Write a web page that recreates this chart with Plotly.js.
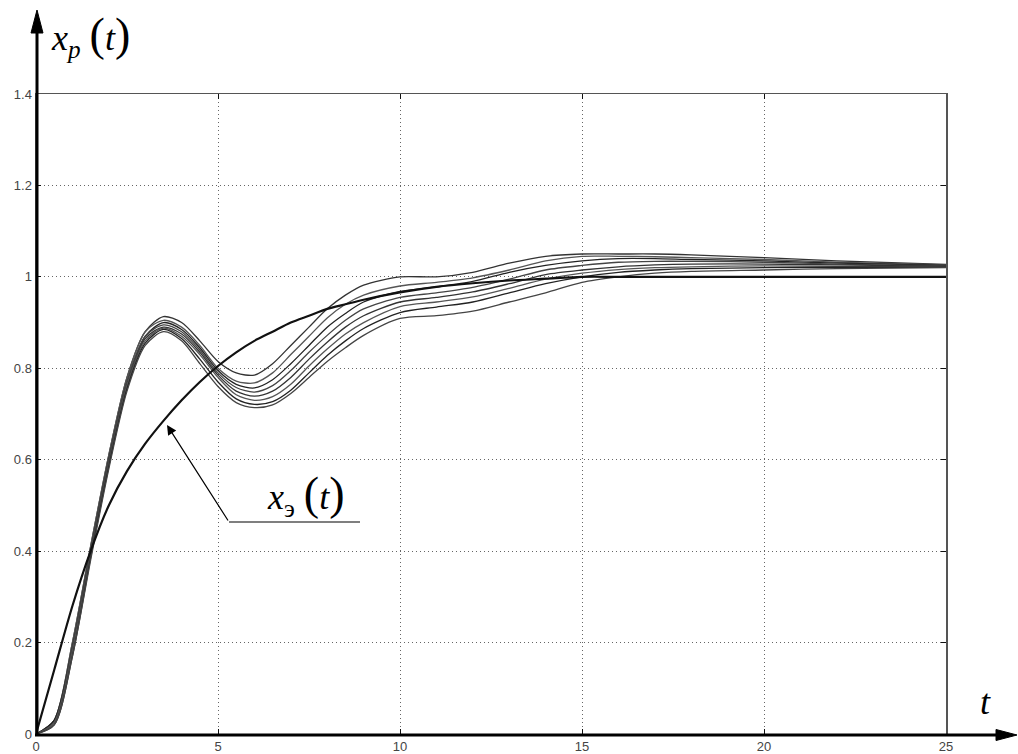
<!DOCTYPE html>
<html>
<head>
<meta charset="utf-8">
<script src="https://cdn.plot.ly/plotly-3.0.1.min.js"></script>
<style>html,body{margin:0;padding:0;background:#fff;}#chart{width:1018px;height:754px;}</style>
</head>
<body>
<div id="chart"></div>
<script>
// time grid
var tGrid = [0,0.5,1,1.5,2,2.5,3,3.5,4,4.5,5,5.5,6,6.5,7,7.5,8,8.5,9,10,11,12,13,14,15,16,17,18,20,22,25];

// reference response x_э(t)
var refCurve = [0,0.14,0.28,0.40,0.50,0.575,0.635,0.685,0.73,0.77,0.805,0.835,0.86,0.88,0.90,0.915,0.93,0.94,0.95,0.966,0.978,0.986,0.992,0.996,1.0,1.0,1.0,1.0,1.0,1.0,1.0];

// family of responses x_p(t)
var curveA = [0,0.03,0.20,0.41,0.61,0.78,0.88,0.913,0.90,0.86,0.815,0.79,0.785,0.81,0.85,0.89,0.93,0.96,0.982,1.0,1.0,1.01,1.03,1.045,1.05,1.05,1.05,1.048,1.042,1.035,1.027];
var curveB = [0,0.03,0.20,0.41,0.61,0.78,0.88,0.905,0.89,0.85,0.80,0.772,0.768,0.79,0.83,0.87,0.91,0.94,0.96,0.98,0.988,0.998,1.015,1.035,1.045,1.045,1.044,1.042,1.038,1.032,1.026];
var curveC = [0,0.03,0.19,0.40,0.60,0.77,0.87,0.90,0.885,0.845,0.795,0.765,0.757,0.775,0.81,0.85,0.89,0.92,0.945,0.968,0.978,0.99,1.01,1.025,1.035,1.04,1.04,1.038,1.035,1.03,1.025];
var curveD = [0,0.025,0.19,0.40,0.60,0.77,0.87,0.895,0.88,0.84,0.79,0.758,0.748,0.762,0.795,0.835,0.872,0.905,0.93,0.955,0.965,0.977,0.995,1.015,1.025,1.032,1.034,1.034,1.032,1.028,1.024];
var curveE = [0,0.025,0.18,0.39,0.59,0.76,0.865,0.89,0.875,0.835,0.785,0.75,0.739,0.75,0.78,0.82,0.857,0.89,0.915,0.945,0.955,0.967,0.985,1.005,1.015,1.022,1.026,1.028,1.028,1.026,1.023];
var curveF = [0,0.025,0.18,0.39,0.59,0.76,0.86,0.888,0.87,0.83,0.78,0.742,0.73,0.738,0.765,0.805,0.842,0.875,0.9,0.935,0.945,0.956,0.975,0.995,1.008,1.016,1.02,1.022,1.024,1.023,1.022];
var curveG = [0,0.02,0.17,0.385,0.585,0.755,0.855,0.885,0.865,0.82,0.77,0.733,0.721,0.727,0.752,0.79,0.828,0.86,0.887,0.922,0.934,0.945,0.965,0.985,1.0,1.01,1.015,1.018,1.02,1.021,1.021];
var curveH = [0,0.02,0.17,0.38,0.58,0.75,0.85,0.88,0.86,0.81,0.76,0.725,0.714,0.72,0.745,0.78,0.815,0.845,0.872,0.909,0.915,0.925,0.945,0.965,0.988,1.0,1.008,1.012,1.015,1.018,1.02];

var xTicks = [0,5,10,15,20,25];
var yTicks = [0,0.2,0.4,0.6,0.8,1,1.2,1.4];
var yTickText = ['0','0.2','0.4','0.6','0.8','1','1.2','1.4'];

var family = [curveA,curveB,curveC,curveD,curveE,curveF,curveG,curveH];
var famColors = ['#333','#555','#222','#444','#333','#555','#222','#444'];
var traces = family.map(function(c,i){
  return {x:tGrid, y:c, mode:'lines', line:{color:famColors[i], width:1.3, shape:'spline', smoothing:0.8}, hoverinfo:'skip', showlegend:false};
});
traces.push({x:tGrid, y:refCurve, mode:'lines', line:{color:'#111', width:2.2, shape:'spline', smoothing:0.8}, hoverinfo:'skip', showlegend:false});

var L = 36, R = 946, T = 94, B = 734;
function px2paperX(px){ return (px - L)/(R - L); }
function px2paperY(py){ return (B - py)/(B - T); }

var serif = "Liberation Serif";
var bigParen = function(ch){ return '<span style="font-size:46px">'+ch+'</span>'; };

var layout = {
  width:1018, height:754,
  margin:{l:L, r:1018-R, t:T, b:754-B, pad:0},
  paper_bgcolor:'#fff', plot_bgcolor:'#fff',
  showlegend:false,
  xaxis:{range:[0,25], tickvals:xTicks, ticktext:xTicks.map(String), showgrid:true, gridcolor:'#666', griddash:'1px,3px', gridwidth:1,
         zeroline:false, showline:true, linecolor:'#555', linewidth:1.5, mirror:'ticks', ticks:'inside', ticklen:5, tickcolor:'#111',
         tickfont:{family:'Liberation Sans, Arial', size:13, color:'#444'}, fixedrange:true},
  yaxis:{range:[0,1.4], tickvals:yTicks, ticktext:yTickText, showgrid:true, gridcolor:'#666', griddash:'1px,3px', gridwidth:1,
         zeroline:false, showline:true, linecolor:'#555', linewidth:1.5, mirror:'ticks', ticks:'inside', ticklen:5, tickcolor:'#111',
         tickfont:{family:'Liberation Sans, Arial', size:13, color:'#444'}, fixedrange:true},
  shapes:[
    {type:'line', xref:'paper', yref:'paper', x0:px2paperX(37), x1:px2paperX(37), y0:px2paperY(736), y1:px2paperY(28), line:{color:'#000', width:3}},
    {type:'path', xref:'paper', yref:'paper', path:'M '+px2paperX(37)+' '+px2paperY(10)+' L '+px2paperX(31)+' '+px2paperY(33)+' L '+px2paperX(43)+' '+px2paperY(33)+' Z', fillcolor:'#000', line:{color:'#000', width:1}},
    {type:'line', xref:'paper', yref:'paper', x0:px2paperX(35), x1:px2paperX(1000), y0:px2paperY(735), y1:px2paperY(735), line:{color:'#000', width:3}},
    {type:'path', xref:'paper', yref:'paper', path:'M '+px2paperX(1017)+' '+px2paperY(735)+' L '+px2paperX(996)+' '+px2paperY(729.5)+' L '+px2paperX(996)+' '+px2paperY(740.5)+' Z', fillcolor:'#000', line:{color:'#000', width:1}},
    {type:'line', xref:'paper', yref:'paper', x0:px2paperX(229), x1:px2paperX(360), y0:px2paperY(522), y1:px2paperY(522), line:{color:'#000', width:1.2}}
  ],
  annotations:[
    {xref:'paper', yref:'paper', x:px2paperX(167), y:px2paperY(425), ax:229-167, ay:522-425, text:'', showarrow:true, arrowhead:2, arrowsize:1.6, arrowwidth:1.2, arrowcolor:'#000', standoff:0},
    {xref:'paper', yref:'paper', x:px2paperX(305), y:px2paperY(495), text:'<i>x</i><sub>э</sub> '+bigParen('(')+'<i>t</i>'+bigParen(')'), showarrow:false, font:{family:serif, size:36, color:'#000'}, xanchor:'center', yanchor:'middle'},
    {xref:'paper', yref:'paper', x:px2paperX(90), y:px2paperY(36), text:'<i>x</i><sub><i>p</i></sub> '+bigParen('(')+'<i>t</i>'+bigParen(')'), showarrow:false, font:{family:serif, size:36, color:'#000'}, xanchor:'center', yanchor:'middle'},
    {xref:'paper', yref:'paper', x:px2paperX(985), y:px2paperY(702), text:'<i>t</i>', showarrow:false, font:{family:serif, size:36, color:'#000'}, xanchor:'center', yanchor:'middle'}
  ]
};

Plotly.newPlot('chart', traces, layout, {staticPlot:true, displayModeBar:false});
</script>
</body>
</html>
